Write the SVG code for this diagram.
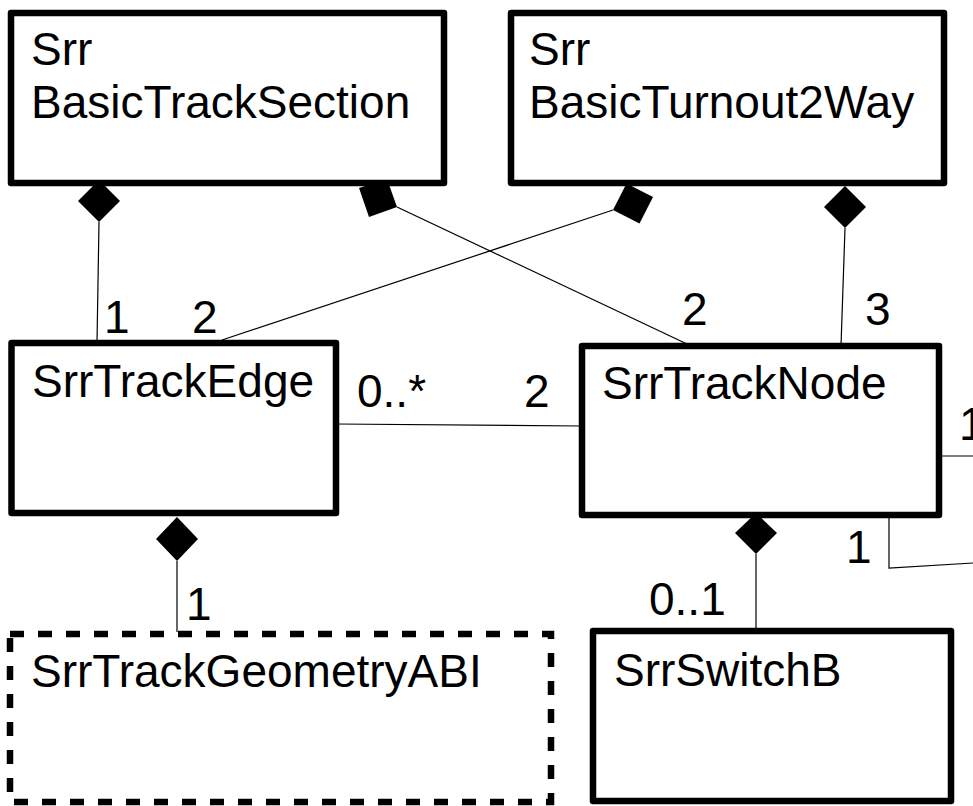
<svg xmlns="http://www.w3.org/2000/svg" width="973" height="806" viewBox="0 0 973 806" font-family="'Liberation Sans', Arial, sans-serif">
<style>
.box{fill:#fff;stroke:#000;stroke-width:6.5;stroke-linejoin:round}
.dash{fill:#fff;stroke:#000;stroke-width:6.5;stroke-dasharray:14 14}
text{font-family:'Liberation Sans', Arial, sans-serif;font-size:46px;fill:#000}
.c line,.c polyline{stroke:#000;stroke-width:1.2;fill:none}
.d{fill:#000;stroke:none}
</style>
<rect width="973" height="806" fill="#fff"/>
<g id="connectors" class="c">
<line x1="99" y1="222" x2="97" y2="343"/>
<line x1="397" y1="207" x2="687" y2="344"/>
<line x1="613" y1="210" x2="222" y2="340"/>
<line x1="845" y1="228" x2="841" y2="346"/>
<line x1="336" y1="424" x2="582" y2="426"/>
<line x1="177" y1="561" x2="177" y2="632"/>
<line x1="756" y1="554" x2="756" y2="629"/>
<line x1="939" y1="456" x2="973" y2="456"/>
<polyline points="889,515 889,568 973,563"/>
<polygon class="d" points="99,180 120,201 99,222 78,201"/>
<polygon class="d" points="359,188 387,179 397,207 369,217"/>
<polygon class="d" points="653,197 639.5,223.5 613,210 626.5,183.5"/>
<polygon class="d" points="845,186 866,207 845,228 824,207"/>
<polygon class="d" points="177,517 198,539 177,561 156,539"/>
<polygon class="d" points="756,513 777,533 756,554 735,533"/>
<text x="104" y="333">1</text>
<text x="192" y="333">2</text>
<text x="682" y="325">2</text>
<text x="865" y="325">3</text>
<text x="357" y="407">0..*</text>
<text x="524" y="407">2</text>
<text x="186" y="620">1</text>
<text x="649" y="615">0..1</text>
<text x="846" y="563">1</text>
<text x="959" y="440">1</text>
</g>
<g id="BasicTrackSection">
<rect class="box" x="11" y="13" width="433" height="170"/>
<text x="31" y="65">Srr</text>
<text x="31" y="118">BasicTrackSection</text>
</g>
<g id="BasicTurnout2Way">
<rect class="box" x="511" y="13" width="433" height="170"/>
<text x="529" y="65">Srr</text>
<text x="529" y="118">BasicTurnout2Way</text>
</g>
<g id="SrrTrackEdge">
<rect class="box" x="11.5" y="343" width="324.5" height="170"/>
<text x="32" y="397">SrrTrackEdge</text>
</g>
<g id="SrrTrackNode">
<rect class="box" x="582" y="346" width="357" height="169"/>
<text x="602" y="399">SrrTrackNode</text>
</g>
<g id="SrrTrackGeometryABI">
<rect class="dash" x="10" y="634" width="541" height="168"/>
<text x="31" y="687">SrrTrackGeometryABI</text>
</g>
<g id="SrrSwitchB">
<rect class="box" x="593" y="631" width="358" height="170"/>
<text x="614" y="686">SrrSwitchB</text>
</g>
</svg>
